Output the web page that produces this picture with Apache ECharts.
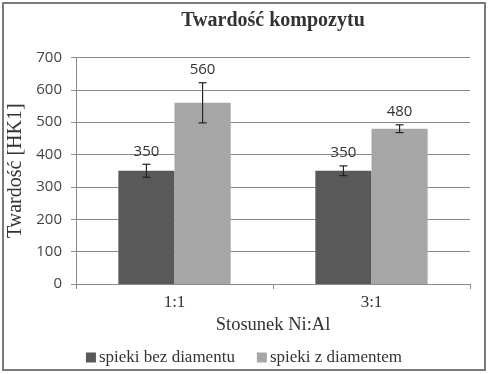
<!DOCTYPE html>
<html><head><meta charset="utf-8">
<script src="https://cdn.jsdelivr.net/npm/echarts@6/dist/echarts.min.js"></script>
<style>html,body{margin:0;padding:0;background:#fff}#c{width:488px;height:374px}</style>
</head><body><div id="c"></div>
<script>
var categories = ['1:1', '3:1'];
var seriesNames = ['spieki bez diamentu', 'spieki z diamentem'];
var valsBez = [350, 350];
var valsZ = [560, 480];
var errBez = [20, 15];
var errZ = [62, 12];
var yTicks = [0, 100, 200, 300, 400, 500, 600, 700];

var GAP = 0.43;
function errSeries(vals, errs, side, name) {
  var data = vals.map(function (v, i) { return [i, v, errs[i]]; });
  return {
    type: 'custom', name: name + '_err', z: 10, silent: true,
    data: data,
    encode: { x: 0, y: 1 },
    renderItem: function (params, api) {
      var idx = api.value(0), v = api.value(1), e = api.value(2);
      var band = api.size([1, 0])[0];
      var bw = band * (1 - GAP) / 2;
      var c = api.coord([idx, v]);
      var x = c[0] + side * bw / 2;
      var top = api.coord([idx, v + e])[1];
      var bot = api.coord([idx, v - e])[1];
      var cap = 4;
      var st = { stroke: '#222', lineWidth: 1.2 };
      return { type: 'group', children: [
        { type: 'line', shape: { x1: x, y1: top, x2: x, y2: bot }, style: st },
        { type: 'line', shape: { x1: x - cap, y1: top, x2: x + cap, y2: top }, style: st },
        { type: 'line', shape: { x1: x - cap, y1: bot, x2: x + cap, y2: bot }, style: st },
        { type: 'text', x: x, y: top - 13, style: { text: String(v), textAlign: 'center', textVerticalAlign: 'middle', font: '15px "Open Sans"', fill: '#333' } }
      ]};
    }
  };
}

var chart = echarts.init(document.getElementById('c'), null, { renderer: 'canvas' });
chart.setOption({
  animation: false,
  backgroundColor: '#fff',
  graphic: [
    { type: 'rect', shape: { x: 3, y: 3, width: 482, height: 367 }, style: { fill: 'none', stroke: '#7a7a7a', lineWidth: 2 }, z: 100 },
    { type: 'text', x: 273, y: 21, style: { text: 'Twardość kompozytu', textAlign: 'center', textVerticalAlign: 'middle', font: 'bold 20px "Liberation Serif"', fill: '#333' } }
  ],
  grid: { left: 76, right: 18, top: 57.5, bottom: 90, containLabel: false, outerBoundsMode: 'none' },
  legend: { data: seriesNames, bottom: 3, left: 'center', itemWidth: 10, itemHeight: 10, itemGap: 22, icon: 'rect',
    textStyle: { fontFamily: '"Liberation Serif"', fontSize: 17, color: '#333', padding: [0, 0, 0, -2] } },
  xAxis: { type: 'category', data: categories, name: 'Stosunek Ni:Al', nameLocation: 'middle', nameGap: 31,
    nameTextStyle: { fontFamily: '"Liberation Serif"', fontSize: 18.5, color: '#333' },
    axisLine: { lineStyle: { color: '#8a8a8a', width: 1 } },
    axisTick: { show: true, length: 5, lineStyle: { color: '#8a8a8a' } },
    axisLabel: { fontFamily: '"Liberation Serif"', fontSize: 17, color: '#333', margin: 10 } },
  yAxis: { type: 'value', min: 0, max: 700, interval: 100, name: 'Twardość [HK1]', nameLocation: 'middle', nameGap: 41,
    nameTextStyle: { fontFamily: '"Liberation Serif"', fontSize: 20, color: '#333' },
    axisLine: { show: true, lineStyle: { color: '#8a8a8a', width: 1 } },
    axisTick: { show: true, length: 5, lineStyle: { color: '#8a8a8a' } },
    axisLabel: { fontFamily: '"Open Sans"', fontSize: 15, color: '#444', margin: 14,
      formatter: function (v) { return yTicks.indexOf(v) >= 0 ? String(v) : ''; } },
    splitLine: { lineStyle: { color: '#8a8a8a', width: 1 } } },
  series: [
    { type: 'bar', name: seriesNames[0], data: valsBez, barGap: '0%', barCategoryGap: (GAP * 100) + '%', itemStyle: { color: '#595959' } },
    { type: 'bar', name: seriesNames[1], data: valsZ, barGap: '0%', barCategoryGap: (GAP * 100) + '%', itemStyle: { color: '#a6a6a6' } },
    errSeries(valsBez, errBez, -1, seriesNames[0]),
    errSeries(valsZ, errZ, 1, seriesNames[1])
  ]
});
</script></body></html>
